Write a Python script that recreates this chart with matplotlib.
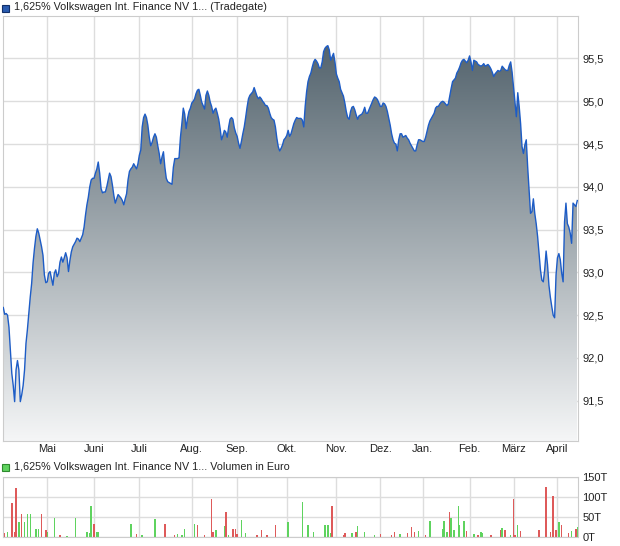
import numpy as np
import matplotlib.pyplot as plt
from matplotlib.colors import LinearSegmentedColormap
from matplotlib.patches import Rectangle

plt.rcParams['font.family'] = ['Liberation Sans', 'DejaVu Sans']

# daily closing prices (Tradegate), mid-April to mid-April
close = [
    92.59, 92.51, 92.52, 92.50, 92.36, 92.10, 91.82, 91.68, 91.49, 91.86,
    91.97, 91.86, 91.49, 91.57, 91.68, 91.86, 92.17, 92.33, 92.52, 92.71,
    92.87, 93.11, 93.28, 93.42, 93.51, 93.46, 93.38, 93.30, 93.20, 92.97,
    92.88,
    # Mai
    92.89, 92.99, 93.01, 92.93, 92.85, 92.99, 93.03, 92.95, 92.99, 93.12,
    93.18, 93.12, 93.17, 93.23, 93.17, 93.01, 93.14, 93.24, 93.30, 93.33,
    93.36, 93.40, 93.39, 93.36, 93.40, 93.44, 93.53, 93.67, 93.79, 93.88,
    94.00, 94.08, 94.10,
    # Juni
    94.10, 94.16, 94.21, 94.29, 94.16, 93.98, 93.93, 93.94, 93.94, 94.00,
    94.08, 94.16, 94.12, 94.02, 93.90, 93.81, 93.86, 93.91, 93.89, 93.87,
    93.84, 93.79, 93.86, 93.92, 94.08, 94.18, 94.21, 94.23, 94.27, 94.24,
    94.21, 94.27,
    # Juli
    94.37, 94.43, 94.70, 94.81, 94.85, 94.81, 94.72, 94.58, 94.48, 94.52,
    94.58, 94.62, 94.58, 94.48, 94.39, 94.27, 94.35, 94.41, 94.23, 94.10,
    94.06, 94.05, 94.04, 94.03, 94.23, 94.33, 94.33, 94.33, 94.34, 94.58,
    94.74, 94.92, 94.85, 94.68, 94.80, 94.88, 94.92,
    # Aug.
    94.98, 95.00, 95.03, 95.09, 95.13, 95.14, 95.07, 94.99, 94.95, 94.91,
    95.07, 95.12, 95.07, 94.99, 94.94, 94.86, 94.90, 94.92, 94.86, 94.79,
    94.68, 94.55, 94.60, 94.66, 94.64, 94.58, 94.70, 94.79, 94.81, 94.79,
    94.69, 94.63,
    # Sep.
    94.59, 94.51, 94.45, 94.53, 94.62, 94.70, 94.81, 94.93, 95.03, 95.07,
    95.09, 95.11, 95.16, 95.11, 95.06, 95.03, 95.05, 95.03, 95.00, 94.98,
    94.95, 94.95, 94.92, 94.86, 94.81, 94.79, 94.78, 94.70, 94.57, 94.47,
    94.42, 94.45, 94.49, 94.55, 94.57,
    # Okt.
    94.60, 94.66, 94.59, 94.62, 94.68, 94.74, 94.78, 94.81, 94.80, 94.80,
    94.80, 94.78, 94.70, 94.94, 95.11, 95.23, 95.29, 95.33, 95.40, 95.46,
    95.49, 95.47, 95.44, 95.39, 95.39, 95.46, 95.58, 95.62, 95.64, 95.65,
    95.60, 95.48, 95.52, 95.56, 95.46,
    # Nov.
    95.32, 95.27, 95.23, 95.14, 95.10, 95.06, 94.98, 94.88, 94.81, 94.79,
    94.88, 94.93, 94.94, 94.90, 94.84, 94.79, 94.83, 94.84, 94.85, 94.88,
    94.93, 94.86, 94.86, 94.90, 94.94, 94.98, 95.02, 95.05, 95.04, 95.02,
    94.98,
    # Dez.
    94.94, 94.94, 94.98, 94.97, 94.94, 94.88, 94.80, 94.72, 94.62, 94.55,
    94.51, 94.50, 94.42, 94.55, 94.62, 94.62, 94.58, 94.59, 94.60, 94.57,
    94.55, 94.51, 94.48, 94.45, 94.42, 94.42, 94.49, 94.55, 94.55, 94.54,
    # Jan.
    94.53, 94.53, 94.58, 94.65, 94.72, 94.77, 94.80, 94.83, 94.86, 94.92,
    94.94, 94.94, 94.97, 94.99, 95.00, 94.99, 94.97, 94.95, 94.97, 95.06,
    95.15, 95.23, 95.25, 95.27, 95.33, 95.36, 95.40, 95.45, 95.48, 95.49,
    95.47, 95.45, 95.48,
    # Feb.
    95.53, 95.46, 95.36, 95.48, 95.47, 95.46, 95.43, 95.42, 95.41, 95.42,
    95.44, 95.41, 95.42, 95.43, 95.41, 95.38, 95.34, 95.29, 95.32, 95.34,
    95.36, 95.35, 95.36, 95.41, 95.39, 95.37, 95.36, 95.36, 95.42, 95.46,
    95.34,
    # März
    95.17, 94.99, 94.82, 95.10, 94.94, 94.74, 94.47, 94.39, 94.49, 94.55,
    94.23, 93.96, 93.69, 93.71, 93.86, 93.69, 93.57, 93.42, 93.22, 93.03,
    92.91, 92.89, 93.03, 93.25, 93.09, 92.85, 92.71, 92.60, 92.50, 92.47,
    92.97,
    # April
    93.17, 93.22, 93.15, 92.99, 92.89, 93.59, 93.81, 93.57, 93.53, 93.46,
    93.34, 93.81, 93.79, 93.77, 93.84,
]

months = ["Mai", "Juni", "Juli", "Aug.", "Sep.", "Okt.", "Nov.", "Dez.",
          "Jan.", "Feb.", "März", "April"]
month_start = [31, 64, 96, 133, 165, 200, 235, 266, 296, 329, 360, 391]

price_ticks = [91.5, 92.0, 92.5, 93.0, 93.5, 94.0, 94.5, 95.0, 95.5]

# traded volume (thousand euro) on the trading days that had turnover
vol_day = [0, 1, 3, 6, 8, 9, 11, 13, 15, 17,
           19, 23, 25, 27, 30, 31, 36, 40, 45, 51,
           59, 61, 62, 64, 66, 67, 90, 94, 98, 107,
           114, 121, 123, 126, 128, 135, 137, 142, 147, 148,
           150, 156, 157, 159, 162, 164, 165, 168, 171, 179,
           182, 186, 192, 201, 211, 215, 219, 227, 229, 231,
           232, 240, 241, 246, 249, 250, 255, 262, 266, 274,
           276, 280, 285, 288, 290, 293, 298, 301, 310, 311,
           313, 315, 316, 318, 321, 322, 325, 327, 332, 335,
           337, 338, 344, 351, 352, 354, 358, 360, 361, 363,
           365, 378, 383, 386, 388, 390, 392, 394, 399, 401,
           404, 405]
vol_k = [86, 10, 12, 86, 12, 123, 37, 57, 37, 57,
         57, 19, 19, 57, 17, 12, 47, 4, 2, 47,
         12, 9, 78, 32, 12, 12, 32, 7, 4, 45,
         32, 4, 7, 4, 19, 32, 30, 4, 95, 12,
         17, 27, 62, 4, 19, 19, 7, 42, 9, 4,
         17, 4, 30, 37, 88, 30, 12, 30, 30, 9,
         78, 4, 9, 9, 12, 27, 12, 4, 7, 4,
         12, 7, 9, 24, 12, 14, 4, 40, 19, 40,
         12, 62, 47, 17, 78, 30, 40, 14, 7, 4,
         12, 9, 4, 17, 22, 17, 4, 95, 4, 30,
         14, 17, 126, 12, 103, 17, 37, 30, 9, 14,
         19, 24]
# g = price up that day, r = price down
vol_dir = ["g", "r", "g", "r", "r", "r", "g", "r", "g", "g",
           "g", "g", "g", "r", "r", "g", "g", "r", "g", "g",
           "g", "g", "g", "r", "g", "g", "g", "r", "g", "g",
           "r", "r", "g", "g", "g", "g", "r", "r", "r", "r",
           "g", "g", "r", "g", "r", "r", "r", "g", "g", "r",
           "r", "r", "r", "g", "g", "g", "g", "g", "g", "g",
           "r", "r", "r", "g", "r", "g", "g", "g", "r", "r",
           "r", "g", "r", "r", "r", "g", "r", "g", "g", "g",
           "g", "r", "g", "g", "g", "g", "g", "r", "g", "r",
           "g", "g", "r", "r", "g", "r", "g", "r", "r", "g",
           "r", "r", "r", "r", "r", "r", "g", "r", "r", "g",
           "r", "g"]

up_col, down_col = "#5fd35f", "#de5a5a"

fig = plt.figure(figsize=(6.2, 5.46), dpi=100)
ax = fig.add_axes([2.5 / 620, (546 - 441) / 546, 575.5 / 620, 425.3 / 546])
axv = fig.add_axes([2.5 / 620, (546 - 536.7) / 546, 575.5 / 620, 59.4 / 546])

x = np.arange(len(close))
y_lo, y_hi = 91.03, 96.0
x_lo, x_hi = -0.56, len(close) - 1 + 0.5

# gradient area under the price line
poly = ax.fill_between(x, close, y_lo, color="none", lw=0)
grad = LinearSegmentedColormap.from_list("slate", ["#f5f6f7", "#54646e"])
img = ax.imshow(np.linspace(0, 1, 256).reshape(-1, 1), cmap=grad,
                origin="lower", aspect="auto", zorder=1,
                extent=[x[0], x[-1], y_lo, max(close)])
img.set_clip_path(poly.get_paths()[0], ax.transData)
ax.plot(x, close, color="#1d5cc6", lw=1.0, zorder=3)

ax.set_xlim(x_lo, x_hi)
ax.set_ylim(y_lo, y_hi)
ax.set_xticks(month_start)
ax.set_xticklabels(months)
ax.set_yticks(price_ticks)
ax.set_yticklabels([f"{v:.1f}".replace(".", ",") for v in price_ticks])
ax.yaxis.tick_right()
ax.tick_params(length=0, labelsize=8, colors="#222222")
ax.tick_params(axis="y", pad=3)
ax.tick_params(axis="x", pad=2)
ax.grid(True, color="#dddddd", lw=1)
ax.set_axisbelow(True)
for sp in ax.spines.values():
    sp.set_color("#cccccc")

# volume panel
axv.bar(vol_day, vol_k, width=1.0, lw=0, antialiased=False,
        color=[up_col if d == "g" else down_col for d in vol_dir], zorder=2)
axv.set_xlim(x_lo, x_hi)
axv.set_ylim(0, 150)
axv.set_xticks(month_start)
axv.set_xticklabels([])
axv.set_yticks([0, 50, 100, 150])
axv.set_yticklabels(["0T", "50T", "100T", "150T"])
axv.yaxis.tick_right()
axv.tick_params(length=0, labelsize=8, colors="#222222", pad=3)
axv.grid(True, color="#dddddd", lw=1)
axv.set_axisbelow(True)
for sp in axv.spines.values():
    sp.set_color("#cccccc")

# legend lines
fig.patches.append(Rectangle((2 / 620, 1 - 11.5 / 546), 7 / 620, 7 / 546,
                             transform=fig.transFigure, facecolor="#2a5cb0",
                             edgecolor="#12306a", lw=0.8))
fig.text(13.5 / 620, 1 - 7.5 / 546,
         "1,625% Volkswagen Int. Finance NV 1... (Tradegate)",
         fontsize=7.75, va="center", color="#222222")
fig.patches.append(Rectangle((2 / 620, 1 - 470.5 / 546), 7 / 620, 7 / 546,
                             transform=fig.transFigure, facecolor=up_col,
                             edgecolor="#2e8a2e", lw=0.8))
fig.text(13.5 / 620, 1 - 467 / 546,
         "1,625% Volkswagen Int. Finance NV 1... Volumen in Euro",
         fontsize=7.75, va="center", color="#222222")

fig.savefig("out.png", dpi=100)
